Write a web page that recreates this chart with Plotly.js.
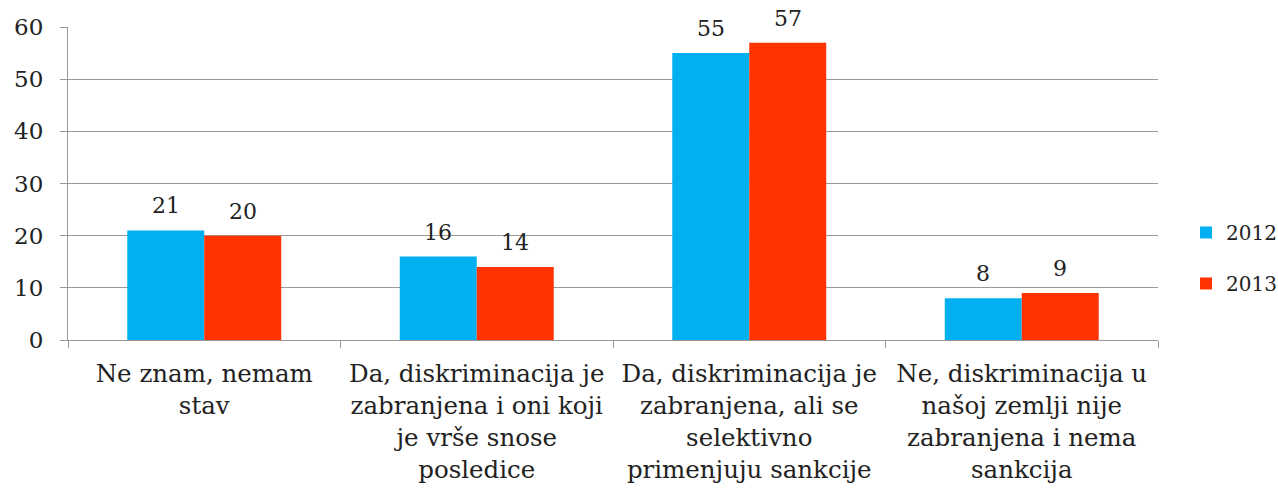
<!DOCTYPE html>
<html><head><meta charset="utf-8">
<script src="https://cdn.plot.ly/plotly-3.0.1.min.js"></script>
<style>body{margin:0;background:#fff}#chart{width:1278px;height:499px}</style>
</head><body><div id="chart"></div>
<script>
const categories = [
  "Ne znam, nemam<br>stav",
  "Da, diskriminacija je<br>zabranjena i oni koji<br>je vrše snose<br>posledice",
  "Da, diskriminacija je<br>zabranjena, ali se<br>selektivno<br>primenjuju sankcije",
  "Ne, diskriminacija u<br>našoj zemlji nije<br>zabranjena i nema<br>sankcija"
];
const values2012 = [21, 16, 55, 8];
const values2013 = [20, 14, 57, 9];
const seriesNames = ["2012", "2013"];

const FONT = "DejaVu Serif";
const GAP = 0.435;
const half = (1 - GAP) / 4;
const mk = (name, vals, color, grp) => ({
  type: "bar", name: name, x: categories, y: vals,
  marker: {color: color}, legendgroup: grp
});
const data = [
  mk(seriesNames[0], values2012, "#00B0F0", "a"),
  mk(seriesNames[1], values2013, "#FF3300", "b")
];
const annotations = [];
[values2012, values2013].forEach((vals, s) => {
  vals.forEach((v, i) => annotations.push({
    x: i + (s === 0 ? -half : half), y: v, xref: "x", yref: "y",
    text: String(v), showarrow: false, yanchor: "bottom", yshift: 10,
    font: {family: FONT, size: 22, color: "#222"}
  }));
});
const layout = {
  width: 1278, height: 499,
  margin: {l: 68, r: 120, t: 27, b: 159},
  paper_bgcolor: "#fff", plot_bgcolor: "#fff",
  font: {family: FONT, size: 22, color: "#222"},
  barmode: "group", bargap: GAP, bargroupgap: 0,
  showlegend: true,
  annotations: annotations,
  legend: {xref: "container", yref: "container", x: 0.928, xanchor: "left", y: 0.483, yanchor: "middle",
           traceorder: "grouped", tracegroupgap: 22,
           font: {family: FONT, size: 20, color: "#222"}},
  xaxis: {type: "category", tickson: "boundaries", ticks: "outside", ticklen: 7,
          tickcolor: "#999", showline: true, linecolor: "#999", linewidth: 1,
          ticklabelstandoff: 12,
          tickfont: {family: FONT, size: 24.5, color: "#222"}, automargin: false},
  yaxis: {range: [0, 60], dtick: 10, ticks: "outside", ticklen: 7, tickcolor: "#999",
          showline: true, linecolor: "#999", gridcolor: "#999", gridwidth: 1,
          zeroline: false, tickfont: {family: FONT, size: 23, color: "#222"},
          ticklabelstandoff: 12, automargin: false}
};
Plotly.newPlot("chart", data, layout, {displayModeBar: false, staticPlot: true});
</script></body></html>
